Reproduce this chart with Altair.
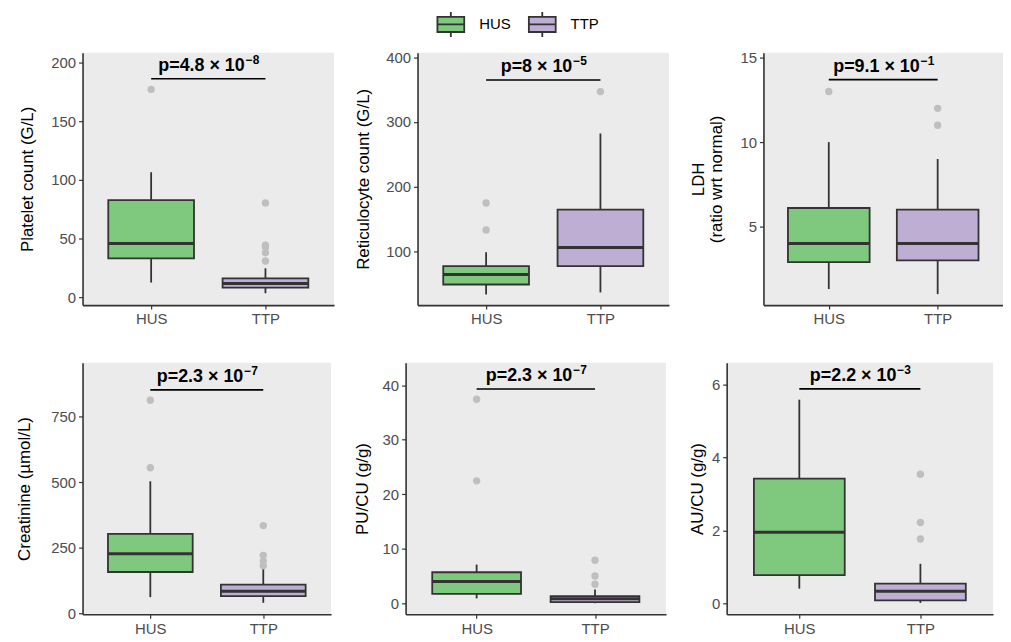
import altair as alt
import pandas as pd

GROUPS = ["HUS", "TTP"]
POS = [1, 2]
COLORS = ["#7FC97F", "#BEAED4"]

TITLES = [["Platelet count (G/L)"], ["Reticulocyte count (G/L)"],
          ["LDH", "(ratio wrt normal)"], ["Creatinine (µmol/L)"],
          ["PU/CU (g/g)"], ["AU/CU (g/g)"]]

# box statistics per panel: [HUS, TTP]
WHISK_LO = [[12.7, 3.6], [33.2, 36.3], [1.3, 1.0], [63, 41.5], [0.9, 0.0], [0.41, 0.02]]
Q1 = [[33.2, 8.4], [48.6, 76.9], [2.9, 3.0], [158.6, 66.8], [1.75, 0.24], [0.78, 0.09]]
MEDIAN = [[45.9, 11.8], [64, 105.7], [4.0, 4.0], [228, 85.7], [4.0, 0.85], [1.955, 0.34]]
Q3 = [[82.8, 16.3], [76.9, 164.4], [6.1, 6.0], [303.5, 110.8], [5.7, 1.33], [3.42, 0.55]]
WHISK_HI = [[106.5, 24.8], [98.5, 282.2], [10, 9], [503.5, 170], [7.1, 2.55], [5.58, 1.09]]
OUT_HUS = [[176.9], [174.6, 133], [13], [555, 811.7], [37.4, 22.45], []]
OUT_TTP = [[80.3, 44.5, 43, 38, 31], [347], [12, 11], [335, 222, 200, 182],
           [7.9, 5.0, 3.5], [3.54, 2.22, 1.77]]

P_MANTISSA = ["4.8", "8", "9.1", "2.3", "2.3", "2.2"]
P_EXPONENT = [-8, -5, -1, -7, -7, -3]
BRACKET_Y = [186, 365, 13.7, 851, 39.3, 5.875]

Y_DOMAIN = [[-6.5, 208.2], [16.7, 407.3], [0.35, 15.3], [-2, 954], [-2.0, 44.1], [-0.29, 6.59]]
Y_TICKS = [[0, 50, 100, 150, 200], [100, 200, 300, 400], [5, 10, 15],
           [0, 250, 500, 750], [0, 10, 20, 30, 40], [0, 2, 4, 6]]

FONT = "Liberation Sans"
DARK = "#333333"
P_SIZE = 18
EXP_SIZE = 12

# approximate Arial-bold advance widths (em) for centring the p-value label
BOLD_W = {"p": 0.611, "=": 0.584, ".": 0.278, " ": 0.278, "×": 0.584, "−": 0.584}


def text_width(s, size):
    return sum(BOLD_W.get(c, 0.556) for c in s) * size


legend = alt.Legend(
    title=None, orient="none", legendX=356, legendY=-43, direction="horizontal",
    symbolType="M-1,-0.56H1V0.56H-1Z M-1,0H1 M0,-0.56V-0.93 M0,0.56V0.93",
    symbolSize=729, symbolStrokeColor=DARK, symbolStrokeWidth=1.8,
    labelFontSize=15, labelFont=FONT, labelColor="black", labelOffset=14,
    columnPadding=14,
)

label_expr = "[" + ",".join(f"'{g}'" for g in GROUPS) + "][datum.value - 1]"


def make_panel(i, w, h, title_padding):
    box = pd.DataFrame({
        "group": GROUPS, "pos": POS, "lo": WHISK_LO[i], "q1": Q1[i],
        "med": MEDIAN[i], "q3": Q3[i], "hi": WHISK_HI[i],
    })
    out = pd.DataFrame({
        "pos": [POS[0]] * len(OUT_HUS[i]) + [POS[1]] * len(OUT_TTP[i]),
        "value": OUT_HUS[i] + OUT_TTP[i],
    })
    main_txt = f"p={P_MANTISSA[i]} × 10"
    exp_txt = f"{P_EXPONENT[i]}".replace("-", "−")
    ann = pd.DataFrame({"x1": [POS[0]], "x2": [POS[1]], "y": [BRACKET_Y[i]],
                        "main": [main_txt], "exp": [exp_txt]})
    wm = text_width(main_txt, P_SIZE)
    we = text_width(exp_txt, EXP_SIZE)
    split = (wm - we) / 2

    xscale = alt.Scale(domain=[0.4, 2.6], nice=False, zero=False)
    xaxis = alt.Axis(values=POS, labelExpr=label_expr, title=None, grid=False,
                     labelFontSize=15, labelPadding=3)
    yscale = alt.Scale(domain=Y_DOMAIN[i], nice=False, zero=False)
    yaxis = alt.Axis(values=Y_TICKS[i], title=TITLES[i], grid=False,
                     titlePadding=title_padding)

    def X(f):
        return alt.X(f, type="quantitative", scale=xscale, axis=xaxis)

    def Y(f):
        return alt.Y(f, type="quantitative", scale=yscale, axis=yaxis)

    whisker = alt.Chart(box).mark_rule(color=DARK, strokeWidth=1.8).encode(
        x=X("pos"), y=Y("lo"), y2="hi")
    boxes = alt.Chart(box).transform_calculate(
        xl="datum.pos - 0.375", xr="datum.pos + 0.375"
    ).mark_bar(stroke=DARK, strokeWidth=1.8, opacity=1).encode(
        x=X("xl"), x2="xr", y=Y("q1"), y2="q3",
        color=alt.Color("group:N", scale=alt.Scale(domain=GROUPS, range=COLORS),
                        legend=legend))
    median = alt.Chart(box).transform_calculate(
        xl="datum.pos - 0.375", xr="datum.pos + 0.375"
    ).mark_rule(color=DARK, strokeWidth=3).encode(x=X("xl"), x2="xr", y=Y("med"))
    outl = alt.Chart(out).mark_circle(color="#BFBFBF", size=55, opacity=1).encode(
        x=X("pos"), y=Y("value"))
    bracket = alt.Chart(ann).mark_rule(color="black", strokeWidth=1.6).encode(
        x=X("x1"), x2="x2", y=Y("y"))
    base_t = alt.Chart(ann).transform_calculate(xm="(datum.x1 + datum.x2) / 2")
    ptext = base_t.mark_text(
        dx=split, dy=-8, fontSize=P_SIZE, fontWeight="bold", font=FONT,
        color="black", baseline="alphabetic", align="right"
    ).encode(x=X("xm"), y=Y("y"), text="main:N")
    etext = base_t.mark_text(
        dx=split + 1, dy=-15, fontSize=EXP_SIZE, fontWeight="bold", font=FONT,
        color="black", baseline="alphabetic", align="left"
    ).encode(x=X("xm"), y=Y("y"), text="exp:N")
    return alt.layer(whisker, boxes, median, outl, bracket, ptext, etext).properties(
        width=w, height=h)


row1 = alt.hconcat(make_panel(0, 253, 254, 14.5), make_panel(1, 253, 254, 13.5),
                   make_panel(2, 241, 254, 14), spacing=20)
row2 = alt.hconcat(make_panel(3, 250, 253, 17.5), make_panel(4, 262, 253, 11),
                   make_panel(5, 268, 253, 5), spacing=22)

chart = alt.vconcat(row1, row2, spacing=36).properties(
    padding={"left": 7, "top": 0, "right": 0, "bottom": 0}
).configure(font=FONT).configure_view(
    fill="#EBEBEB", strokeWidth=0
).configure_axis(
    domainColor=DARK, domainWidth=1.6, tickColor=DARK, tickWidth=1.2, tickSize=4,
    labelColor="#4D4D4D", labelFont=FONT, labelFontSize=15, labelPadding=3,
    titleFont=FONT, titleFontSize=17, titleFontWeight="normal", titleColor="black",
    grid=False,
)

chart.save("out.html", embed_options={"renderer": "svg", "actions": False})
